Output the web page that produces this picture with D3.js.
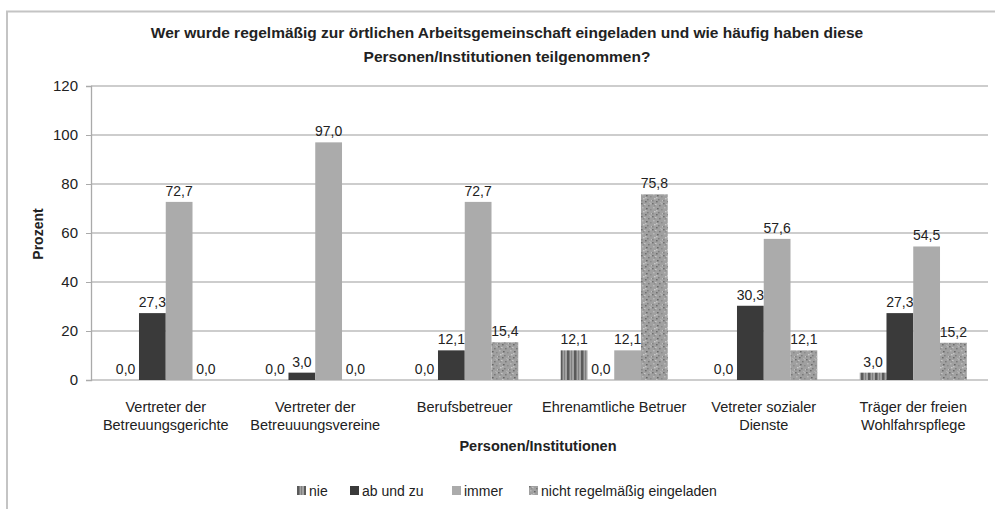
<!DOCTYPE html>
<html>
<head>
<meta charset="utf-8">
<script src="https://cdn.jsdelivr.net/npm/d3@7"></script>
<style>
  body { margin: 0; background: #fff; }
  text { font-family: "Liberation Sans", "Noto Sans", sans-serif; fill: #222; }
</style>
</head>
<body>
<svg id="chart" width="995" height="509"></svg>
<script>
// chart data
const categories = [
  ["Vertreter der", "Betreuungsgerichte"],
  ["Vertreter der", "Betreuuungsvereine"],
  ["Berufsbetreuer"],
  ["Ehrenamtliche Betruer"],
  ["Vetreter sozialer", "Dienste"],
  ["Träger der freien", "Wohlfahrspflege"]
];
const seriesNames = ["nie", "ab und zu", "immer", "nicht regelmäßig eingeladen"];
const nie = [0.0, 0.0, 0.0, 12.1, 0.0, 3.0];
const abUndZu = [27.3, 3.0, 12.1, 0.0, 30.3, 27.3];
const immer = [72.7, 97.0, 72.7, 12.1, 57.6, 54.5];
const nichtEingeladen = [0.0, 0.0, 15.4, 75.8, 12.1, 15.2];
const yTicks = [0, 20, 40, 60, 80, 100, 120];

const seriesValues = [nie, abUndZu, immer, nichtEingeladen];
const catKeys = categories.map(c => c.join(" "));

const svg = d3.select("#chart");
const margin = {left: 91, right: 7, top: 86, bottom: 129};
const W = +svg.attr("width"), H = +svg.attr("height");
const plotW = W - margin.left - margin.right, plotH = H - margin.top - margin.bottom;

// frame
svg.append("path")
  .attr("d", `M7,${H} V11.5 H${W}`)
  .attr("fill", "none").attr("stroke", "#c4c4c4").attr("stroke-width", 2);

// patterns
const defs = svg.append("defs");
const stripes = defs.append("pattern").attr("id", "stripes")
  .attr("width", 7).attr("height", 6).attr("patternUnits", "userSpaceOnUse");
stripes.append("rect").attr("width", 7).attr("height", 6).attr("fill", "#a2a2a2");
stripes.append("rect").attr("x", 0).attr("width", 2.5).attr("height", 6).attr("fill", "#5a5a5a");
stripes.append("rect").attr("x", 4).attr("width", 1).attr("height", 6).attr("fill", "#808080");

const granite = defs.append("pattern").attr("id", "granite")
  .attr("width", 11).attr("height", 13).attr("patternUnits", "userSpaceOnUse");
granite.append("rect").attr("width", 11).attr("height", 13).attr("fill", "#a0a0a0");
[[0,0,"#707070"],[3,1,"#c4c4c4"],[7,2,"#787878"],[1,4,"#b9b9b9"],[5,5,"#676767"],[9,6,"#8a8a8a"],
 [2,8,"#c8c8c8"],[6,9,"#7d7d7d"],[10,10,"#bdbdbd"],[4,11,"#6c6c6c"],[8,12,"#b0b0b0"],[0,10,"#858585"],
 [9,0,"#b5b5b5"],[4,7,"#c0c0c0"],[2,2,"#8e8e8e"]]
  .forEach(([x, y, c]) => granite.append("rect").attr("x", x).attr("y", y)
    .attr("width", 1.6).attr("height", 1.4).attr("fill", c));

const fills = ["url(#stripes)", "#3a3a3a", "#ababab", "url(#granite)"];

const g = svg.append("g").attr("transform", `translate(${margin.left},${margin.top})`);

const y = d3.scaleLinear().domain([0, 120]).range([plotH, 0]);
const x0 = d3.scaleBand().domain(catKeys).range([0, plotW]);
const gap = x0.bandwidth() * 0.142;
const x1 = d3.scaleBand().domain(seriesNames).range([gap, x0.bandwidth() - gap]);

// gridlines
g.selectAll(".grid").data(yTicks).enter().append("line")
  .attr("x1", 0).attr("x2", plotW)
  .attr("y1", d => y(d)).attr("y2", d => y(d))
  .attr("stroke", "#bdbdbd").attr("stroke-width", 1.3);

// y axis
const yAxis = g.append("g").call(d3.axisLeft(y).tickValues(yTicks).tickSize(5).tickPadding(8));
yAxis.select(".domain").attr("stroke", "#aaa").attr("stroke-width", 1.3);
yAxis.selectAll(".tick line").attr("stroke", "#aaa");
yAxis.selectAll(".tick text").style("font-size", "15px").attr("fill", "#222")
  .style("font-family", "Liberation Sans, sans-serif");

// bars
const fmt = v => d3.format(".1f")(v).replace(".", ",");
seriesNames.forEach((s, si) => {
  const vals = seriesValues[si];
  const grp = g.append("g");
  grp.selectAll("rect").data(vals).enter().append("rect")
    .attr("x", (d, i) => x0(catKeys[i]) + x1(s))
    .attr("y", d => y(d))
    .attr("width", x1.bandwidth())
    .attr("height", d => plotH - y(d))
    .attr("fill", fills[si]);
  grp.selectAll("text").data(vals).enter().append("text")
    .attr("x", (d, i) => x0(catKeys[i]) + x1(s) + x1.bandwidth() / 2)
    .attr("y", d => y(d) - 6)
    .attr("text-anchor", "middle")
    .style("font-size", "14px")
    .text(d => fmt(d));
});

// category labels
categories.forEach((lines, i) => {
  const t = g.append("text")
    .attr("x", x0(catKeys[i]) + x0.bandwidth() / 2)
    .attr("y", plotH + 32)
    .attr("text-anchor", "middle")
    .style("font-size", "14.5px");
  lines.forEach((l, li) => t.append("tspan")
    .attr("x", x0(catKeys[i]) + x0.bandwidth() / 2)
    .attr("dy", li === 0 ? 0 : 18).text(l));
});

// axis titles
svg.append("text").attr("x", 538).attr("y", 451).attr("text-anchor", "middle")
  .style("font-size", "14.5px").style("font-weight", "bold").text("Personen/Institutionen");
svg.append("text").attr("transform", "translate(43,234) rotate(-90)").attr("text-anchor", "middle")
  .style("font-size", "14px").style("font-weight", "bold").text("Prozent");

// title
const title = svg.append("text").attr("x", 507).attr("y", 38).attr("text-anchor", "middle")
  .style("font-size", "15.5px").style("font-weight", "bold");
title.append("tspan").attr("x", 507).text("Wer wurde regelmäßig zur örtlichen Arbeitsgemeinschaft eingeladen und wie häufig haben diese");
title.append("tspan").attr("x", 507).attr("dy", 24).text("Personen/Institutionen teilgenommen?");

// legend
const legendX = [297, 350, 452, 529];
const legend = svg.append("g").selectAll("g").data(seriesNames).enter().append("g")
  .attr("transform", (d, i) => `translate(${legendX[i]},486)`);
legend.append("rect").attr("width", 9).attr("height", 9).attr("fill", (d, i) => fills[i]);
legend.append("text").attr("x", 12).attr("y", 9.5).style("font-size", "14px").text(d => d);
</script>
</body>
</html>
